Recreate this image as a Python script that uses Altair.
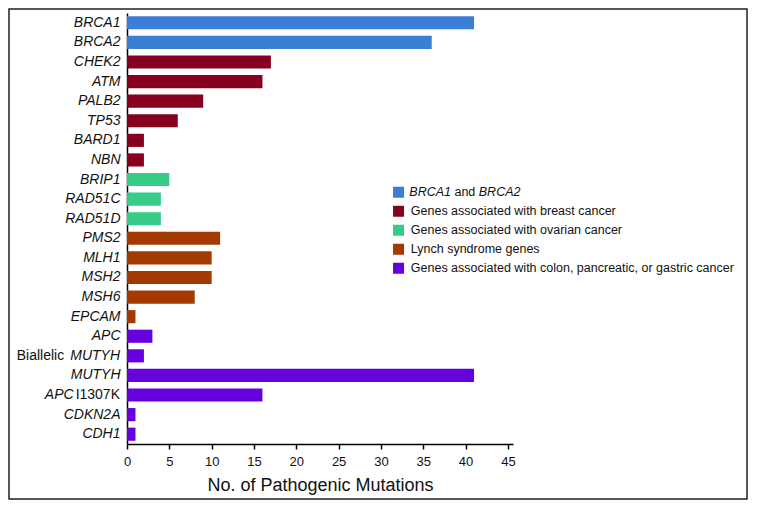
import altair as alt
import pandas as pd

# ---------------- data ----------------
genes = ["BRCA1", "BRCA2", "CHEK2", "ATM", "PALB2", "TP53", "BARD1", "NBN",
         "BRIP1", "RAD51C", "RAD51D", "PMS2", "MLH1", "MSH2", "MSH6", "EPCAM",
         "APC", "Biallelic MUTYH", "MUTYH", "APC I1307K", "CDKN2A", "CDH1"]
counts = [41, 36, 17, 16, 9, 6, 2, 2, 5, 4, 4, 11, 10, 10, 8, 1, 3, 2, 41, 16, 1, 1]
group_names = ["BRCA1 and BRCA2",
               "Genes associated  with breast cancer",
               "Genes associated  with ovarian cancer",
               "Lynch syndrome genes",
               "Genes associated with colon, pancreatic, or gastric cancer"]
group_sizes = [2, 6, 3, 5, 6]
group_colors = ["#3a7fd5", "#87001f", "#35cc87", "#a33a02", "#6600dd"]
x_ticks = [0, 5, 10, 15, 20, 25, 30, 35, 40, 45]
x_title = "No. of Pathogenic Mutations"

groups = []
for g, n in zip(group_names, group_sizes):
    groups += [g] * n
df = pd.DataFrame({"gene": genes, "count": counts, "group": groups})

# ---------------- layout / style ----------------
W, H = 386, 431
PAD = {"left": 119, "top": 5, "right": 235, "bottom": 56}
FONT = "Liberation Sans"
YLAB = 14
LEG = 12.5
LP = 7          # y label padding
LEGEND_X, LEGEND_Y = 265.3, 173
TXT = "#111111"

# approximate Arial advance widths (em) for offset computation
AW = {"B": .667, "R": .722, "C": .722, "A": .667, "1": .556, "2": .556, "M": .833,
      "U": .722, "T": .611, "Y": .667, "H": .722, "I": .278, "3": .556, "0": .556,
      "7": .556, "K": .667, "a": .556, "n": .556, "d": .556, "P": .667, " ": .278}


def tw(s, size):
    return sum(AW.get(c, .556) for c in s) * size


mixed = ["Biallelic MUTYH", "APC I1307K"]
label_expr = " || ".join(f"datum.value == '{m}'" for m in mixed)
label_expr = f"({label_expr}) ? '' : datum.value"

yscale = alt.Scale(domain=genes, paddingInner=0.33, paddingOuter=0.165)
yaxis = alt.Axis(title=None, ticks=False, grid=False,
                 domainColor="black", domainWidth=1.5,
                 labelExpr=label_expr, labelFontStyle="italic",
                 labelFontSize=YLAB, labelColor=TXT, labelPadding=LP)

bars = alt.Chart(df).mark_bar().encode(
    x=alt.X("count:Q",
            scale=alt.Scale(domain=[0, 45.6], nice=False, zero=True),
            axis=alt.Axis(values=x_ticks, title=x_title, grid=False,
                          domainColor="black", domainWidth=1.5,
                          tickColor="black", tickWidth=1.5, tickSize=5,
                          labelFontSize=13, labelColor=TXT, labelPadding=6,
                          labelFlush=False,
                          titleFontSize=18, titleFontWeight="normal",
                          titleColor=TXT, titlePadding=8)),
    y=alt.Y("gene:N", scale=yscale, axis=yaxis),
    color=alt.Color("group:N",
                    scale=alt.Scale(domain=group_names, range=group_colors),
                    legend=alt.Legend(title=None, orient="none",
                                      legendX=LEGEND_X, legendY=LEGEND_Y,
                                      symbolType="square", symbolSize=121,
                                      symbolStrokeWidth=0, labelFontSize=LEG,
                                      labelColor=TXT, labelOffset=6,
                                      rowPadding=6, padding=0, labelLimit=400,
                                      labelExpr="datum.value == 'BRCA1 and BRCA2' ? '' : datum.value")),
)


def ytext(gene, text, style, xpos):
    d = pd.DataFrame({"gene": [gene], "t": [text]})
    return alt.Chart(d).mark_text(align="right", baseline="middle", fontSize=YLAB,
                                  fontStyle=style, color=TXT).encode(
        y=alt.Y("gene:N", scale=yscale, axis=yaxis),
        x=alt.value(xpos),
        text="t:N")


gap = 6
y_texts = [
    ytext("Biallelic MUTYH", "MUTYH", "italic", -LP),
    ytext("Biallelic MUTYH", "Biallelic", "normal", -LP - tw("MUTYH", YLAB) - gap),
    ytext("APC I1307K", "I1307K", "normal", -LP),
    ytext("APC I1307K", "APC", "italic", -LP - tw("I1307K", YLAB) - 2),
]

# legend first entry with mixed italics
lx0 = LEGEND_X + 11 + 6
sp = tw(" ", LEG)
lx1 = lx0 + tw("BRCA1", LEG) + sp
lx2 = lx1 + tw("and", LEG) + sp
ly = LEGEND_Y + 6.25


def ltext(text, style, xpos):
    d = pd.DataFrame({"t": [text]})
    return alt.Chart(d).mark_text(align="left", baseline="middle", fontSize=LEG,
                                  fontStyle=style, color=TXT).encode(
        x=alt.value(xpos), y=alt.value(ly), text="t:N")


leg_texts = [ltext("BRCA1", "italic", lx0), ltext("and", "normal", lx1),
             ltext("BRCA2", "italic", lx2)]

frame = alt.Chart(pd.DataFrame({"a": [0]})).mark_rect(
    fillOpacity=0, stroke="#222222", strokeWidth=1.5).encode(
    x=alt.value(-PAD["left"] + 1), x2=alt.value(W + PAD["right"] - 1),
    y=alt.value(-PAD["top"] + 1), y2=alt.value(H + PAD["bottom"] - 1))

chart = alt.layer(frame, bars, *y_texts, *leg_texts).properties(
    width=W, height=H, padding=PAD,
    autosize=alt.AutoSizeParams(type="none"),
).configure(font=FONT).configure_view(strokeOpacity=0)

chart.save("out.html", embed_options={"renderer": "svg", "actions": False})
